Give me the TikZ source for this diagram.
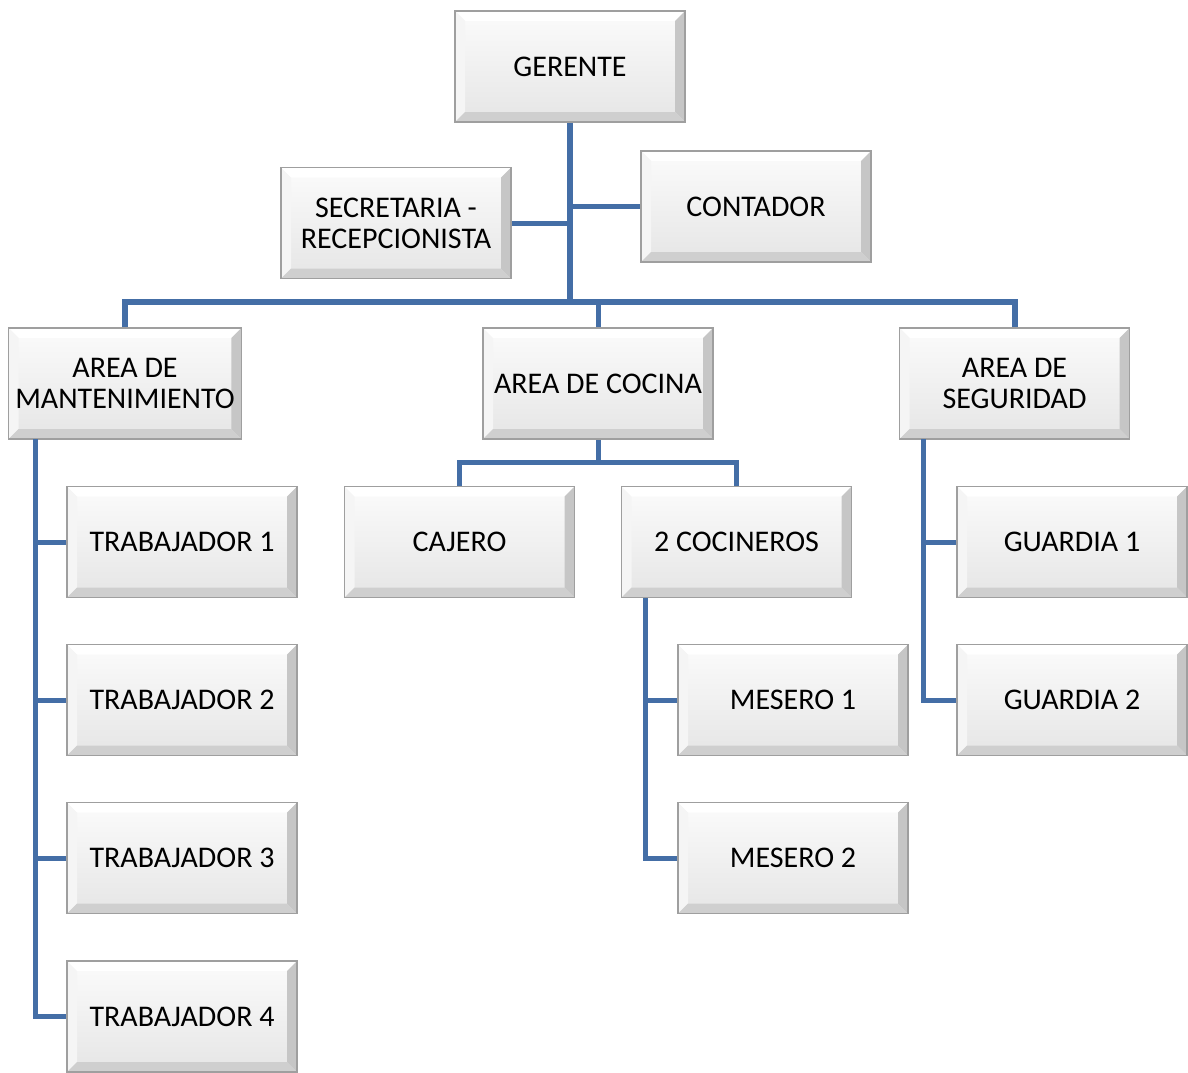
\documentclass[tikz,border=0pt]{standalone}
\usepackage{fontspec}
\setmainfont{Carlito}
\usepackage{tikz}
\definecolor{linkblue}{RGB}{68,110,166}
\tikzstyle{puesto}=[
        draw=gray!75,
        line width=0.8pt,
        top color=gray!3,
        bottom color=gray!20,
        minimum width=115pt,
        minimum height=55.5pt,
        align=center,
        font=\fontsize{15}{15.5}\selectfont,
        path picture={
            \fill[white] (path picture bounding box.north west) -- (path picture bounding box.north east)
                -- ([xshift=-5pt,yshift=-5pt]path picture bounding box.north east)
                -- ([xshift=5pt,yshift=-5pt]path picture bounding box.north west) -- cycle;
            \fill[gray!8] (path picture bounding box.north west) -- (path picture bounding box.south west)
                -- ([xshift=5pt,yshift=5pt]path picture bounding box.south west)
                -- ([xshift=5pt,yshift=-5pt]path picture bounding box.north west) -- cycle;
            \fill[gray!45] (path picture bounding box.north east) -- (path picture bounding box.south east)
                -- ([xshift=-5pt,yshift=5pt]path picture bounding box.south east)
                -- ([xshift=-5pt,yshift=-5pt]path picture bounding box.north east) -- cycle;
            \fill[gray!38] (path picture bounding box.south west) -- (path picture bounding box.south east)
                -- ([xshift=-5pt,yshift=5pt]path picture bounding box.south east)
                -- ([xshift=5pt,yshift=5pt]path picture bounding box.south west) -- cycle;
        }
]
\tikzstyle{enlace}=[
        draw=linkblue,
        line width=2.5pt
]

\begin{document}
\begin{tikzpicture}[x=0.5pt,y=-0.5pt]
    \useasboundingbox (0,0) rectangle (1188,1072);

    \node[puesto] (ger) at (570,66.5) {GERENTE};
    \node[puesto] (sec) at (396,223) {SECRETARIA -\\RECEPCIONISTA};
    \node[puesto] (cont) at (756,206.5) {CONTADOR};

    \node[puesto] (mant) at (125,383.5) {AREA DE\\MANTENIMIENTO};
    \node[puesto] (coc) at (598,383.5) {AREA DE COCINA};
    \node[puesto] (seg) at (1014.5,383.5) {AREA DE\\SEGURIDAD};

    \foreach \n/\y in {1/542,2/700,3/858,4/1016.5} {
        \node[puesto] (t\n) at (182,\y) {TRABAJADOR \n};
    }

    \node[puesto] (caj) at (459.5,542) {CAJERO};
    \node[puesto] (coci) at (736.5,542) {2 COCINEROS};
    \node[puesto] (m1) at (793,700) {MESERO 1};
    \node[puesto] (m2) at (793,858) {MESERO 2};

    \node[puesto] (g1) at (1072,542) {GUARDIA 1};
    \node[puesto] (g2) at (1072,700) {GUARDIA 2};

    % puntos de union
    \coordinate (bus) at (570,302);
    \coordinate (cocbus) at (598,462);
    \coordinate (mspine) at (35,439);
    \coordinate (cspine) at (645,598);
    \coordinate (sspine) at (923,439);

    \draw[enlace,line width=3pt] (ger.south) -- (bus);
    \draw[enlace] (sec.east) -- (sec.east -| ger.south);
    \draw[enlace] (cont.west) -- (cont.west -| ger.south);
    \draw[enlace,line width=3pt] (mant.north) |- (bus) -| (seg.north);
    \draw[enlace] (coc.north) -- (coc.north |- bus);

    \draw[enlace] (coc.south) -- (cocbus);
    \draw[enlace] (caj.north) |- (cocbus) -| (coci.north);

    \draw[enlace] (mspine) |- (t4.west);
    \foreach \n in {1,2,3} {
        \draw[enlace] (t\n.west) -- (t\n.west -| mspine);
    }

    \draw[enlace] (cspine) |- (m2.west);
    \draw[enlace] (m1.west) -- (m1.west -| cspine);

    \draw[enlace] (sspine) |- (g2.west);
    \draw[enlace] (g1.west) -- (g1.west -| sspine);
\end{tikzpicture}
\end{document}
